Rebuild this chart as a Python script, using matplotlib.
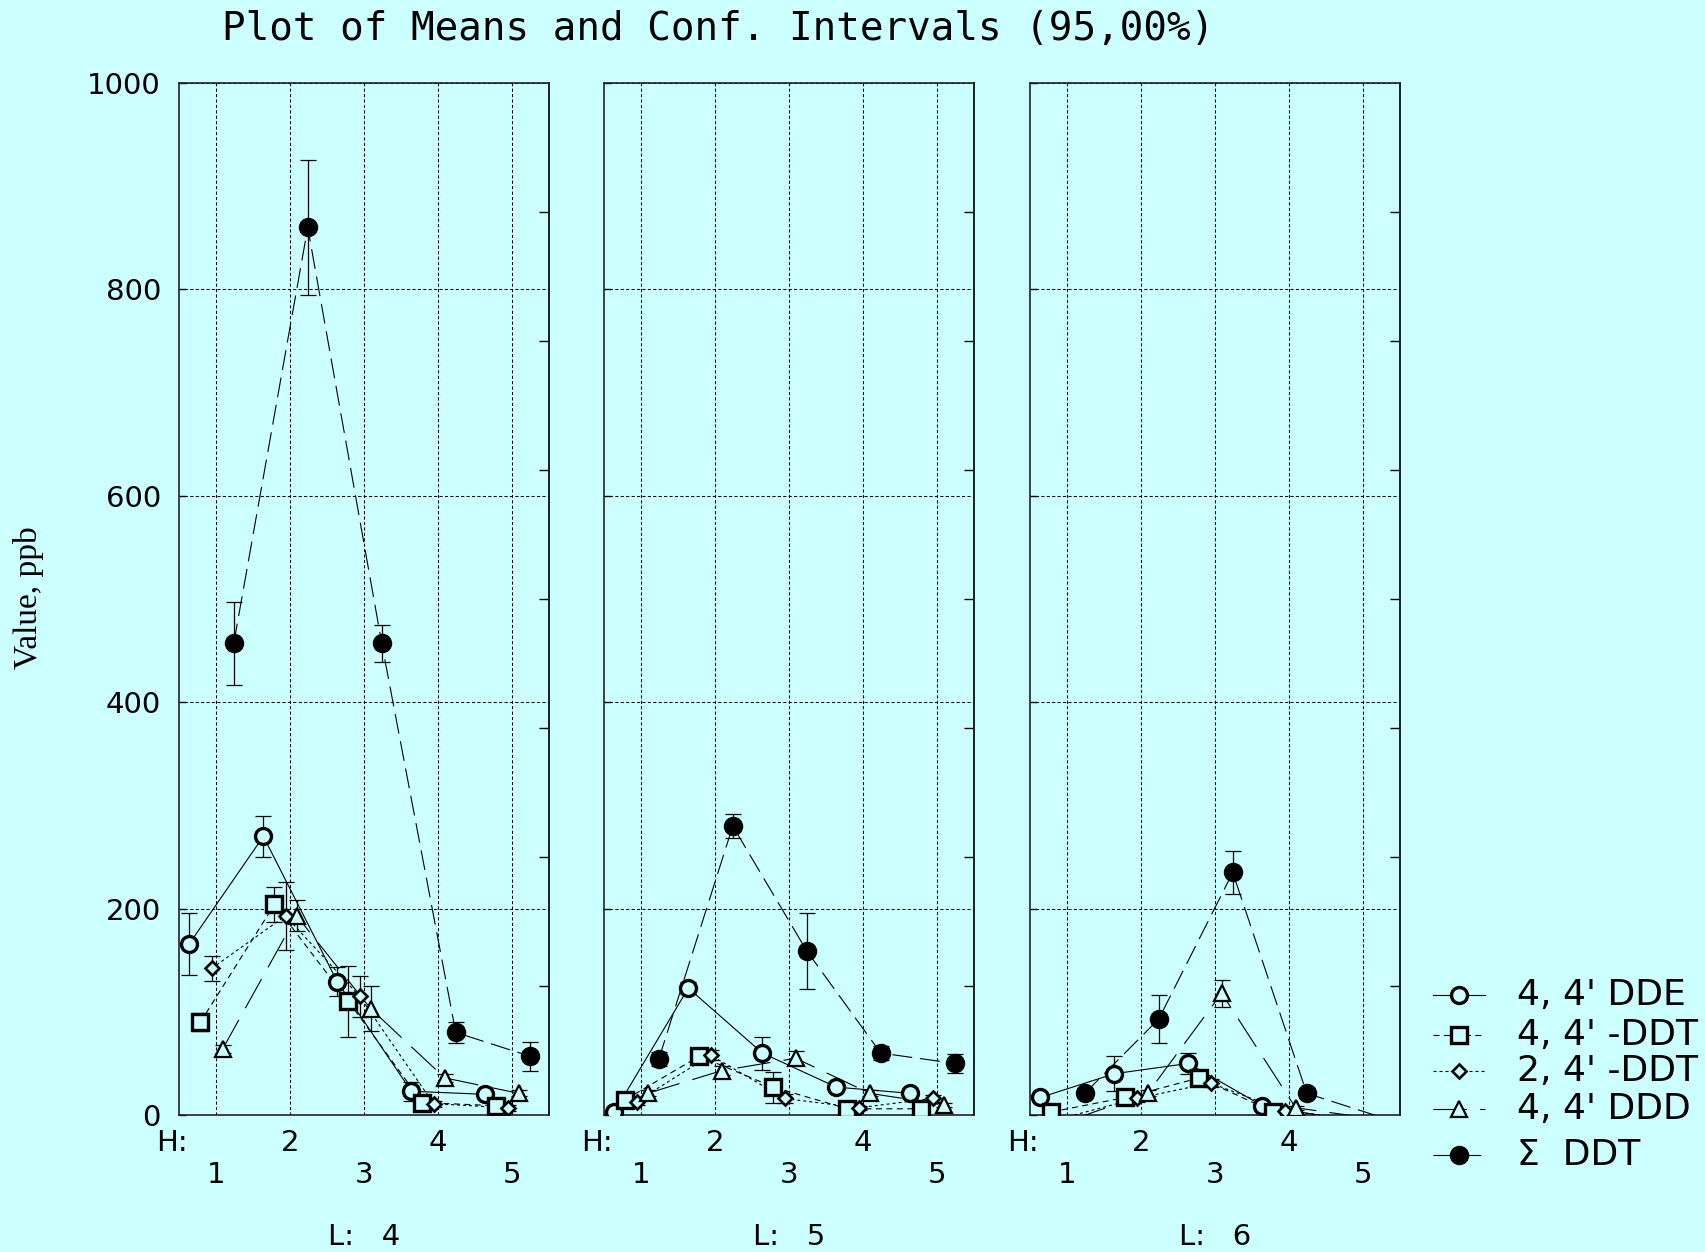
import matplotlib.pyplot as plt
import numpy as np

# means and 95% half-widths, one row per L level (4, 5, 6), columns are H = 1..5
h_levels = [1, 2, 3, 4, 5]
l_levels = [4, 5, 6]

dde = [[166, 270, 129, 23, 20], [3, 123, 60, 27, 21], [17, 40, 50, 9, -3]]
dde_ci = [[30, 20, 14, 9, 4], [3, 6, 16, 4, 3], [3, 17, 10, 3, 2]]

ddt44 = [[90, 204, 110, 12, 9], [15, 57, 27, 6, 6], [3, 17, 36, 3, -4]]
ddt44_ci = [[9, 17, 34, 4, 3], [3, 5, 15, 3, 2], [2, 4, 6, 2, 2]]

ddt24 = [[142, 193, 115, 11, 7], [13, 58, 16, 7, 16], [-3, 16, 31, 4, -4]]
ddt24_ci = [[12, 33, 20, 3, 3], [3, 5, 4, 2, 3], [2, 3, 4, 2, 2]]

ddd = [[64, 193, 103, 36, 21], [21, 43, 55, 21, 10], [-4, 21, 118, 7, -3]]
ddd_ci = [[4, 15, 22, 4, 3], [3, 4, 7, 3, 2], [2, 3, 13, 2, 2]]

sum_ddt = [[457, 860, 457, 80, 57], [54, 280, 159, 60, 50], [21, 93, 235, 21, -2]]
sum_ddt_ci = [[40, 65, 18, 10, 14], [7, 12, 37, 7, 9], [3, 23, 21, 4, 2]]

labels = ["4, 4' DDE", "4, 4' -DDT", "2, 4' -DDT", "4, 4' DDD", "\u03a3  DDT"]

bg = "#ccffff"
styles = [
    dict(marker="o", ms=11.5, mew=2.4, mfc=bg, ls="-"),
    dict(marker="s", ms=11, mew=2.4, mfc=bg, ls=(0, (5.4, 4.0))),
    dict(marker="D", ms=7.5, mew=1.9, mfc=bg, ls=(0, (2.7, 2.7))),
    dict(marker="^", ms=11, mew=1.6, mfc=bg, ls=(0, (30, 12))),
    dict(marker="o", ms=13, mew=1.0, mfc="black", ls=(0, (18, 7))),
]
offsets = [-0.36, -0.21, -0.06, 0.09, 0.24]
series = [(dde, dde_ci), (ddt44, ddt44_ci), (ddt24, ddt24_ci), (ddd, ddd_ci), (sum_ddt, sum_ddt_ci)]

plt.rcParams["font.family"] = "DejaVu Sans"
fig = plt.figure(figsize=(17.05, 12.52), dpi=100, facecolor=bg)

W, H = 1705, 1252
lefts = [179, 604, 1030]
ax_w = 370
ax_top, ax_bot = 83, 1115

x = np.array(h_levels, dtype=float)
for p, L in enumerate(l_levels):
    ax = fig.add_axes([lefts[p] / W, 1 - ax_bot / H, ax_w / W, (ax_bot - ax_top) / H])
    ax.set_facecolor(bg)
    ax.set_xlim(0.5, 5.5)
    ax.set_ylim(0, 1000)

    for (vals, ci), st, off in zip(series, styles, offsets):
        v = np.array(vals[p], dtype=float)
        e = np.array(ci[p], dtype=float)
        xs = x + off
        ax.plot(xs, v, color="black", lw=0.8, ls=st["ls"], zorder=3)
        ok = v >= 0
        ax.errorbar(xs[ok], v[ok], yerr=e[ok], fmt="none", ecolor="black",
                    elinewidth=0.9, capsize=5.5, capthick=0.9, zorder=4)
        ax.plot(xs, np.ma.masked_less(v, 0), ls="none", marker=st["marker"],
                ms=st["ms"], mew=st["mew"], mfc=st["mfc"], mec="black", zorder=5)

    ax.set_xticks(h_levels)
    ax.set_yticks(np.arange(0, 1001, 200))
    ax.grid(True, color="black", lw=0.75, ls=(0, (3, 2.2)))
    ax.set_axisbelow(True)
    ax.tick_params(axis="x", length=0, labelbottom=False)
    ax.tick_params(axis="y", direction="in", length=5, width=1, pad=13,
                   labelsize=21, labelleft=(p == 0))
    for sp in ax.spines.values():
        sp.set_color("#222222")
        sp.set_linewidth(1.2)

    right = ax.secondary_yaxis("right")
    right.set_yticks(np.arange(125, 1000, 125))
    right.tick_params(direction="in", length=7, width=1, labelright=False)
    right.spines["right"].set_linewidth(1.2)

    # two-row H labels under each panel
    tr = ax.get_xaxis_transform()
    ax.text(-0.018, -0.0275, "H:", transform=ax.transAxes, ha="center", va="center", fontsize=21)
    for h in h_levels:
        yy = -0.0275 if h % 2 == 0 else -0.058
        ax.text(h, yy, str(h), transform=tr, ha="center", va="center", fontsize=21)
    ax.text(0.5, -0.118, f"L:   {L}", transform=ax.transAxes, ha="center", va="center", fontsize=21)

fig.text(222 / W, 1 - 29 / H, "Plot of Means and Conf. Intervals (95,00%)",
         family="DejaVu Sans Mono", fontsize=28.3, ha="left", va="center")
fig.text(29 / W, 1 - 598 / H, "Value, ppb", family="Liberation Serif", fontsize=24,
         rotation=90, ha="center", va="center")

# legend drawn in pixel coordinates on a transparent overlay
leg = fig.add_axes([0, 0, 1, 1])
leg.set_xlim(0, W)
leg.set_ylim(H, 0)
leg.axis("off")
leg_rows = [995, 1035, 1071, 1109, 1155]
for lab, st, y in zip(labels, styles, leg_rows):
    leg.plot([1433, 1459, 1485], [y, y, y], color="black", lw=0.8, ls=st["ls"],
             marker=st["marker"], markevery=[1], ms=st["ms"], mew=st["mew"],
             mfc=st["mfc"], mec="black")
    leg.text(1517, y, lab, fontsize=26, ha="left", va="center")

plt.savefig("out.png", dpi=100, facecolor=bg)
